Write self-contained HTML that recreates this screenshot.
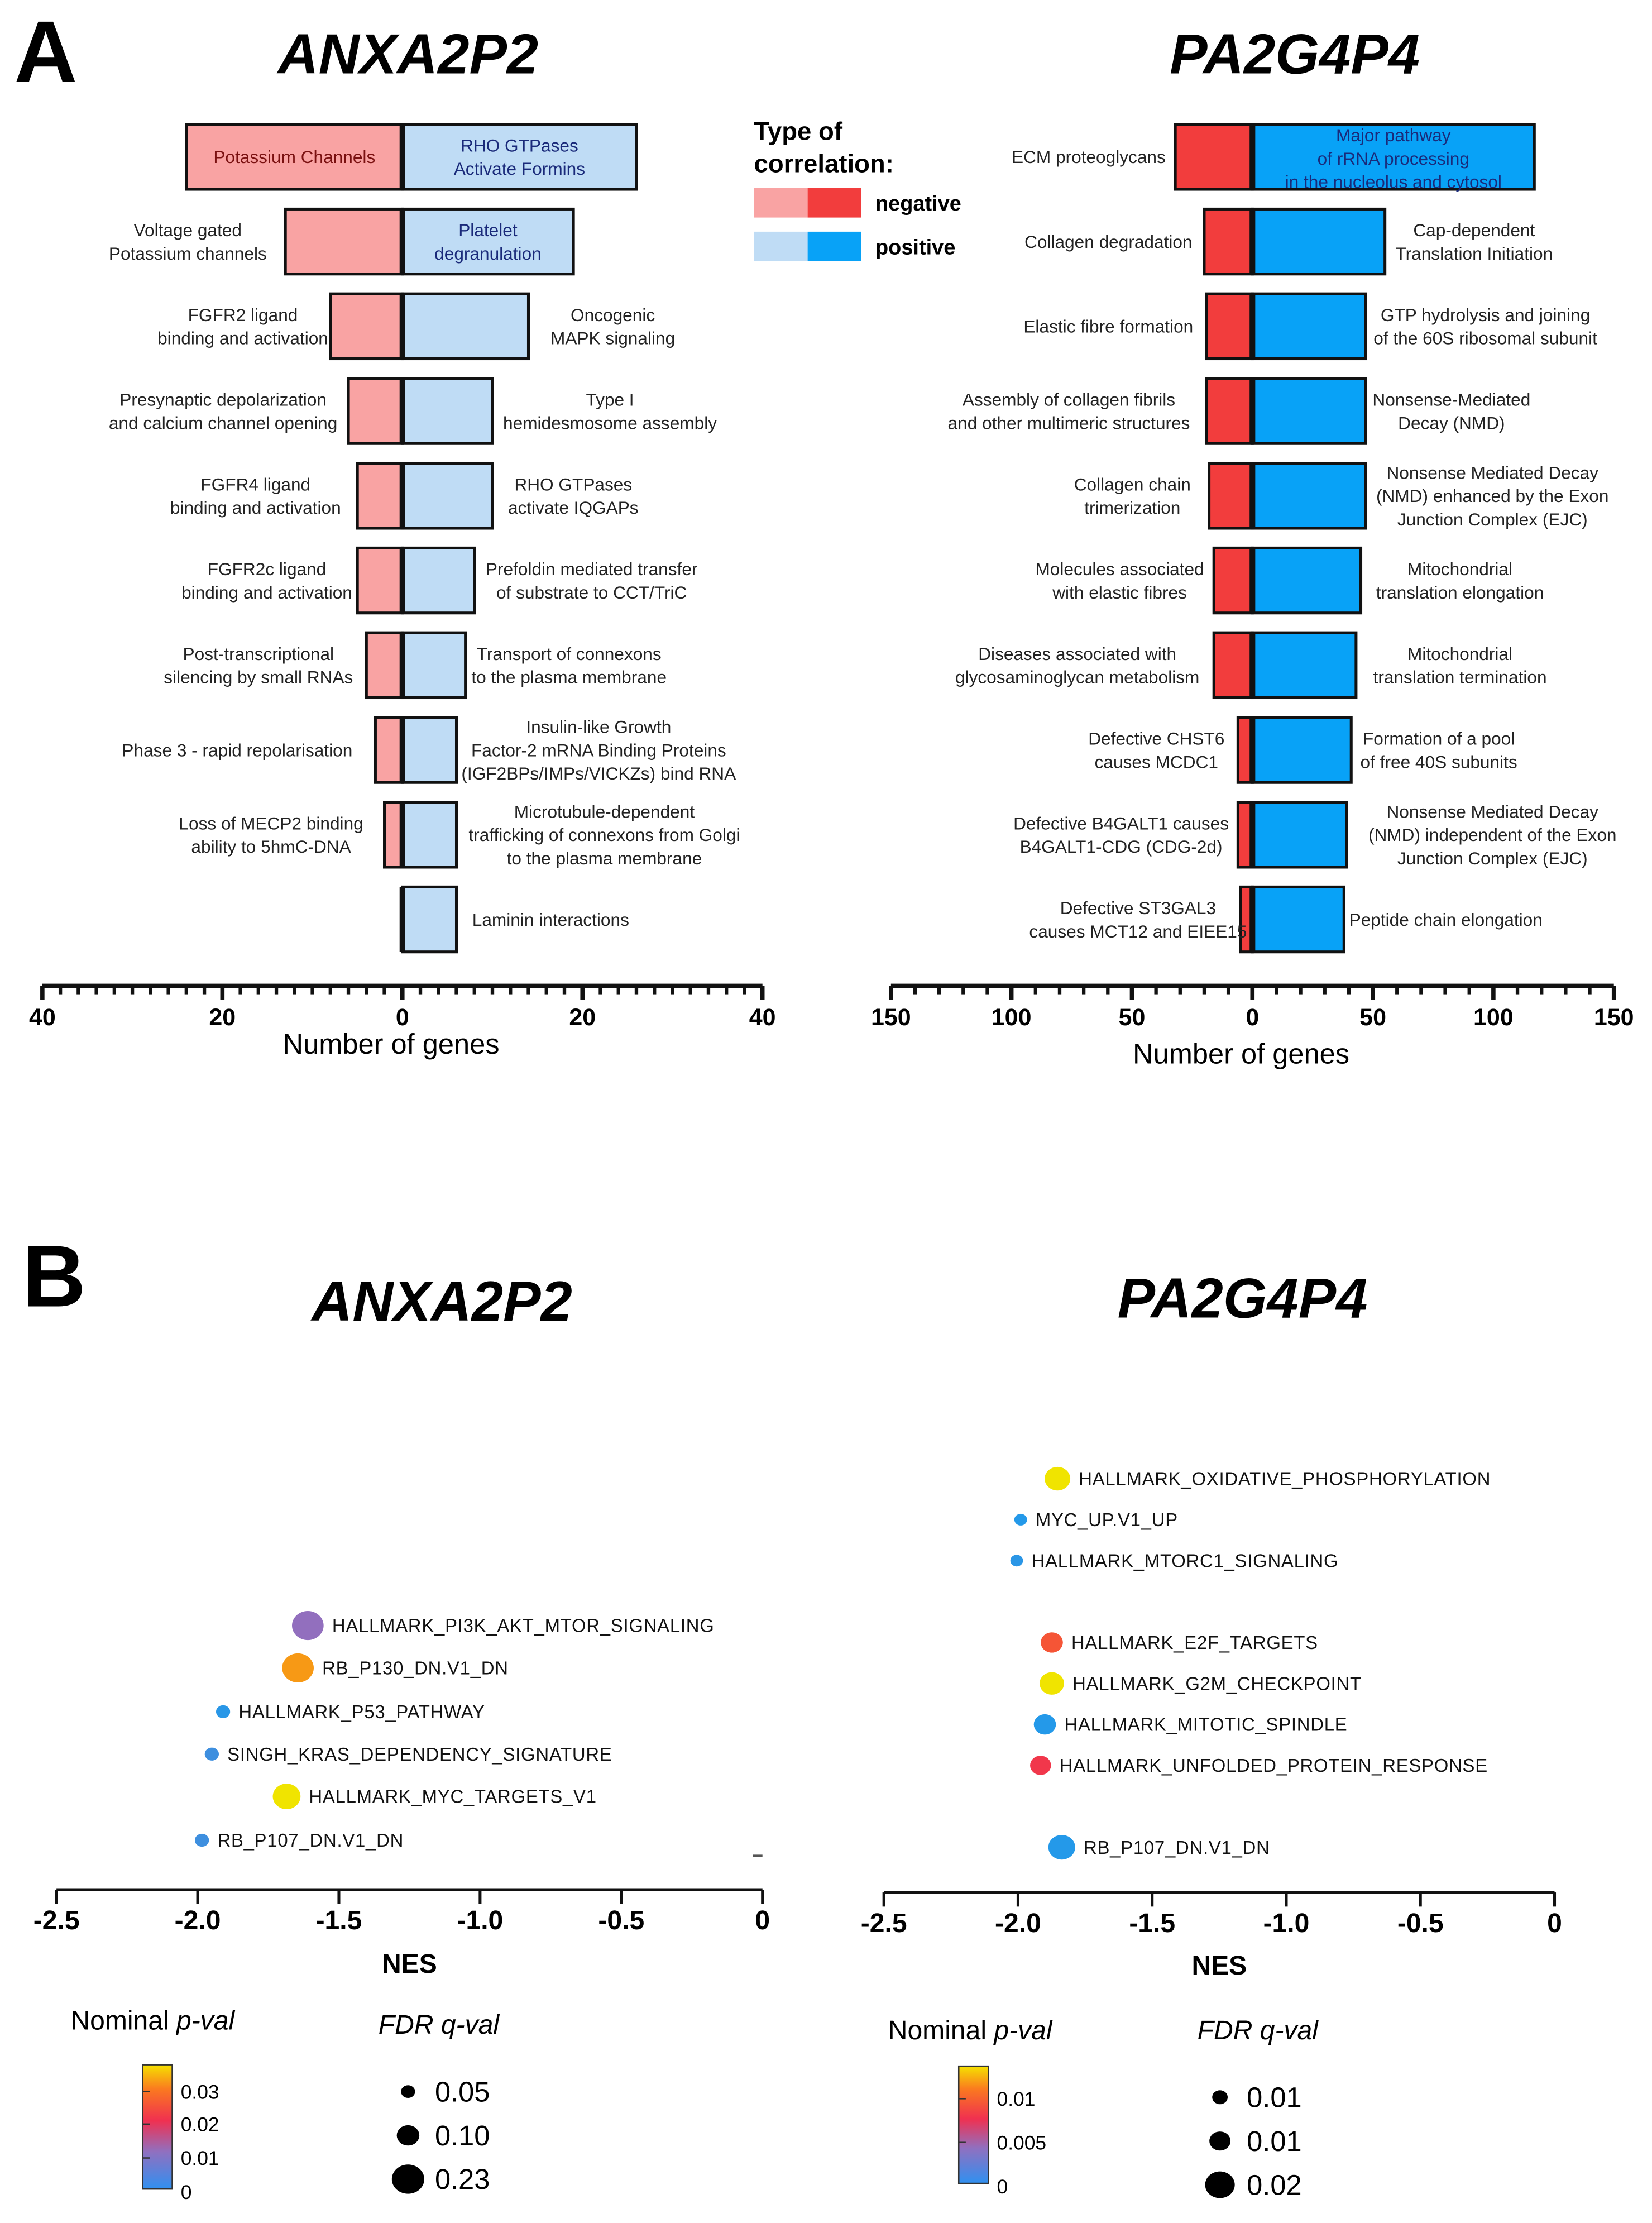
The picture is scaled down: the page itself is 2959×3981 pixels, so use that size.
<!DOCTYPE html>
<html><head><meta charset="utf-8"><style>
html,body{margin:0;padding:0;background:#fff}
svg{display:block;font-family:"Liberation Sans",Arial,sans-serif}
</style></head><body>
<svg id="fig" width="2959" height="3981" viewBox="0 0 1170 1574" xmlns="http://www.w3.org/2000/svg">
<rect width="1170" height="1574" fill="#fff"/>
<text x="10" y="58" font-size="62" font-weight="bold">A</text>
<text x="16" y="925" font-size="62" font-weight="bold">B</text>
<text x="289" y="52" font-size="40" font-weight="bold" font-style="italic" text-anchor="middle">ANXA2P2</text>
<text x="917" y="52" font-size="40" font-weight="bold" font-style="italic" text-anchor="middle">PA2G4P4</text>
<text x="313" y="935" font-size="40" font-weight="bold" font-style="italic" text-anchor="middle">ANXA2P2</text>
<text x="880" y="933" font-size="40" font-weight="bold" font-style="italic" text-anchor="middle">PA2G4P4</text>
<g>
<text x="534" y="99" font-size="18" font-weight="bold">Type of</text>
<text x="534" y="122" font-size="18" font-weight="bold">correlation:</text>
<rect x="534" y="133" width="38" height="21" fill="#f9a3a3"/><rect x="572" y="133" width="38" height="21" fill="#f23d3d"/>
<rect x="534" y="164" width="38" height="21" fill="#bfdcf5"/><rect x="572" y="164" width="38" height="21" fill="#08a2f7"/>
<text x="620" y="149" font-size="15" font-weight="bold">negative</text>
<text x="620" y="180" font-size="15" font-weight="bold">positive</text>
</g>
<g id="chartA1"></g>
<g id="chartA2"></g>
<g id="chartB1"></g>
<g id="chartB2"></g>
<g id="legB"></g>
</svg>
<script>
const NS="http://www.w3.org/2000/svg";
// ---- Panel A data ----
const a1Neg=[24,13,8,6,5,5,4,3,2,0];
const a1Pos=[26,19,14,10,10,8,7,6,6,6];
const a1NegLabels=[["Potassium Channels"],["Voltage gated","Potassium channels"],["FGFR2 ligand","binding and activation"],["Presynaptic depolarization","and calcium channel opening"],["FGFR4 ligand","binding and activation"],["FGFR2c ligand","binding and activation"],["Post-transcriptional","silencing by small RNAs"],["Phase 3 - rapid repolarisation"],["Loss of MECP2 binding","ability to 5hmC-DNA"],[]];
const a1PosLabels=[["RHO GTPases","Activate Formins"],["Platelet","degranulation"],["Oncogenic","MAPK signaling"],["Type I","hemidesmosome assembly"],["RHO GTPases","activate IQGAPs"],["Prefoldin mediated transfer","of substrate to CCT/TriC"],["Transport of connexons","to the plasma membrane"],["Insulin-like Growth","Factor-2 mRNA Binding Proteins","(IGF2BPs/IMPs/VICKZs) bind RNA"],["Microtubule-dependent","trafficking of connexons from Golgi","to the plasma membrane"],["Laminin interactions"]];
const a1Ticks=[40,20,0,20,40];
const a2Neg=[32,20,19,19,18,16,16,6,6,5];
const a2Pos=[117,55,47,47,47,45,43,41,39,38];
const a2NegLabels=[["ECM proteoglycans"],["Collagen degradation"],["Elastic fibre formation"],["Assembly of collagen fibrils","and other multimeric structures"],["Collagen chain","trimerization"],["Molecules associated","with elastic fibres"],["Diseases associated with","glycosaminoglycan metabolism"],["Defective CHST6","causes MCDC1"],["Defective B4GALT1 causes","B4GALT1-CDG (CDG-2d)"],["Defective ST3GAL3","causes MCT12 and EIEE15"]];
const a2PosLabels=[["Major pathway","of rRNA processing","in the nucleolus and cytosol"],["Cap-dependent","Translation Initiation"],["GTP hydrolysis and joining","of the 60S ribosomal subunit"],["Nonsense-Mediated","Decay (NMD)"],["Nonsense Mediated Decay","(NMD) enhanced by the Exon","Junction Complex (EJC)"],["Mitochondrial","translation elongation"],["Mitochondrial","translation termination"],["Formation of a pool","of free 40S subunits"],["Nonsense Mediated Decay","(NMD) independent of the Exon","Junction Complex (EJC)"],["Peptide chain elongation"]];
const a2Ticks=[150,100,50,0,50,100,150];
// ---- Panel B data ----
const b1Names=["HALLMARK_PI3K_AKT_MTOR_SIGNALING","RB_P130_DN.V1_DN","HALLMARK_P53_PATHWAY","SINGH_KRAS_DEPENDENCY_SIGNATURE","HALLMARK_MYC_TARGETS_V1","RB_P107_DN.V1_DN"];
const b1NES=[-1.61,-1.645,-1.91,-1.95,-1.685,-1.985];
const b1Pval=[0.011,0.031,0.001,0.003,0.036,0.003];
const b1Fdr=[0.22,0.22,0.04,0.04,0.18,0.04];
const b2Names=["HALLMARK_OXIDATIVE_PHOSPHORYLATION","MYC_UP.V1_UP","HALLMARK_MTORC1_SIGNALING","HALLMARK_E2F_TARGETS","HALLMARK_G2M_CHECKPOINT","HALLMARK_MITOTIC_SPINDLE","HALLMARK_UNFOLDED_PROTEIN_RESPONSE","RB_P107_DN.V1_DN"];
const b2NES=[-1.853,-1.99,-2.005,-1.874,-1.874,-1.9,-1.916,-1.837];
const b2Pval=[0.0125,0.0002,0.0004,0.0085,0.0125,0.0002,0.0072,0.0002];
const b2Fdr=[0.017,0.006,0.006,0.014,0.016,0.014,0.013,0.018];
const nesTicks=[-2.5,-2.0,-1.5,-1.0,-0.5,0];
const nesTickLabels=["-2.5","-2.0","-1.5","-1.0","-0.5","0"];

function el(tag,attrs,parent){const e=document.createElementNS(NS,tag);for(const k in attrs)e.setAttribute(k,attrs[k]);parent.appendChild(e);return e;}
function txt(lines,x,yc,size,anchor,parent,fill){
  const lh=size*1.32;const y0=yc-(lines.length-1)*lh/2+size*0.36;
  lines.forEach((l,i)=>{const t=el("text",{x:x,y:y0+i*lh,"font-size":size,"text-anchor":anchor,fill:fill||"#222"},parent);t.textContent=l;
  
  });
}
const rowY=[111,171,231,291,351,411,471,531,591,651];

function barChart(g,neg,pos,negL,posL,x0,ppu,ticks,minorStep,maxV,negCx,posCx,darkNeg,darkPos,inside,axisY,xlab,xlabY){
  const xs=v=>x0+v*ppu;
  neg.forEach((v,i)=>{
    const y=rowY[i]-23;
    if(v>0){const r=el("rect",{x:xs(-v),y:y,width:v*ppu,height:46,fill:darkNeg,stroke:"#111","stroke-width":2},g);
      
      }
    const r2=el("rect",{x:xs(0),y:y,width:pos[i]*ppu,height:46,fill:darkPos,stroke:"#111","stroke-width":2},g);
    
    
    el("rect",{x:x0-2,y:y,width:4,height:46,fill:"#111"},g);
    if(inside[i]===1){txt(negL[i],(xs(-v)+x0)/2,rowY[i],12.5,"middle",g,"#7a1010");}
    else if(negL[i].length) txt(negL[i],negCx[i],rowY[i],12.5,"middle",g);
    if(inside[i]===1||inside[i]===2||inside[i]===3){txt(posL[i],(xs(pos[i])+x0)/2,rowY[i]+(posL[i].length>2?1:0),12.5,"middle",g,"#1a2a7a");}
    else txt(posL[i],posCx[i],rowY[i],12.5,"middle",g);
  });
  el("line",{x1:xs(-maxV),x2:xs(maxV),y1:axisY,y2:axisY,stroke:"#111","stroke-width":3},g);
  for(let v=-maxV;v<=maxV+1e-9;v+=minorStep){
    const major=ticks.some((t,i)=>Math.abs(v-(i<(ticks.length-1)/2?-t:t))<1e-9);
    el("line",{x1:xs(v),x2:xs(v),y1:axisY,y2:axisY+(major?10:6),stroke:"#111","stroke-width":major?3:2.5},g);
  }
  const n=ticks.length,mid=(n-1)/2;
  ticks.forEach((t,i)=>{const v=i<mid?-t:t;const tt=el("text",{x:xs(v),y:axisY+28,"font-size":17,"font-weight":"bold","text-anchor":"middle"},g);tt.textContent=t;
    
    });
  const xl=el("text",{x:x0-8,y:xlabY,"font-size":20,"text-anchor":"middle"},g);xl.textContent=xlab;
  
  
}
barChart(document.getElementById("chartA1"),a1Neg,a1Pos,a1NegLabels,a1PosLabels,285,127.5/20,a1Ticks,2,40,
  [0,133,172,158,181,189,183,168,192,0],[0,0,434,432,406,419,403,424,428,390],"#f9a3a3","#bfdcf5",[1,2,0,0,0,0,0,0,0,0],698,"Number of genes",746);
barChart(document.getElementById("chartA2"),a2Neg,a2Pos,a2NegLabels,a2PosLabels,887,256/150,a2Ticks,10,150,
  [771,785,785,757,802,793,763,819,794,806],[0,1044,1052,1028,1057,1034,1034,1019,1057,1024],"#f23d3d","#08a2f7",[3,0,0,0,0,0,0,0,0,0],698,"Number of genes",753);

// ---- Panel B ----
function pcol(p,max){
  const stops=[[0,[30,155,235]],[0.3,[144,112,192]],[0.55,[240,48,80]],[0.8,[250,120,30]],[1,[240,228,0]]];
  const f=Math.max(0,Math.min(1,p/max));
  for(let i=1;i<stops.length;i++){if(f<=stops[i][0]){const a=stops[i-1],b=stops[i];const u=(f-a[0])/(b[0]-a[0]);
    const c=a[1].map((v,k)=>Math.round(v+(b[1][k]-v)*u));return "rgb("+c.join(",")+")";}}
  return "rgb(240,228,0)";
}
function nesChart(g,names,nes,pv,fdr,xLeft,xRight,axisY,rows,pmax,rmin,rmax,fmin,fmax,xlabY){
  const xs=v=>xLeft+(v+2.5)/2.5*(xRight-xLeft);
  names.forEach((n,i)=>{
    const r=rmin+(rmax-rmin)*Math.max(0,(fdr[i]-fmin)/(fmax-fmin));
    const c=el("ellipse",{cx:xs(nes[i]),cy:rows[i],rx:r,ry:r*0.92,fill:pcol(pv[i],pmax)},g);
    
    
    const t=el("text",{x:xs(nes[i])+r+6,y:rows[i]+4.6,"font-size":13,fill:"#111","letter-spacing":"0.3"},g);t.textContent=n;
    
    
  });
  el("line",{x1:xLeft,x2:xRight,y1:axisY,y2:axisY,stroke:"#111","stroke-width":2},g);
  nesTicks.forEach((v,i)=>{el("line",{x1:xs(v),x2:xs(v),y1:axisY,y2:axisY+10,stroke:"#111","stroke-width":2},g);
    const t=el("text",{x:xs(v),y:axisY+28,"font-size":19,"font-weight":"bold","text-anchor":"middle"},g);t.textContent=nesTickLabels[i];
    
    });
  const xl=el("text",{x:(xLeft+xRight)/2,y:xlabY,"font-size":19,"font-weight":"bold","text-anchor":"middle"},g);xl.textContent="NES";
  
  
}
nesChart(document.getElementById("chartB1"),b1Names,b1NES,b1Pval,b1Fdr,40,540,1338,[1151,1181,1212,1242,1272,1303],0.036,5,11.2,0.04,0.22,1397);
nesChart(document.getElementById("chartB2"),b2Names,b2NES,b2Pval,b2Fdr,626,1101,1340,[1047,1076,1105,1163,1192,1221,1250,1308],0.0125,4.5,9.5,0.006,0.018,1398);
el("line",{x1:533,x2:540,y1:1314,y2:1314,stroke:"#555","stroke-width":1.5},document.getElementById("chartB1"));

function legends(g,x,y,bx,by,bh,ticks,tickY,fx,fy,cx,cys,rs,flabels){
  const def=el("defs",{},g);const lg=el("linearGradient",{id:"grad"+x,x1:0,y1:1,x2:0,y2:0},def);
  [["0","#3090f0"],["0.3","#9070c0"],["0.55","#f03050"],["0.8","#fa7820"],["1","#f5e100"]].forEach(s=>el("stop",{offset:s[0],"stop-color":s[1]},lg));
  const t=el("text",{x:x,y:y,"font-size":19},g);t.innerHTML='Nominal <tspan font-style="italic">p-val</tspan>';
  
  
  const r=el("rect",{x:bx,y:by,width:21,height:bh,fill:"url(#grad"+x+")",stroke:"#333","stroke-width":1},g);
  
  
  ticks.forEach((tk,i)=>{if(i>0)el("line",{x1:bx,x2:bx+5,y1:tickY[i]-5,y2:tickY[i]-5,stroke:"#333"},g);
    const tt=el("text",{x:bx+27,y:tickY[i],"font-size":14},g);tt.textContent=tk;});
  const f=el("text",{x:fx,y:fy,"font-size":19,"font-style":"italic"},g);f.textContent="FDR q-val";
  
  
  cys.forEach((cy,i)=>{el("ellipse",{cx:cx,cy:cy,rx:rs[i],ry:rs[i]*0.9,fill:"#000"},g);
    const tt=el("text",{x:cx+19,y:cy+7,"font-size":20},g);tt.textContent=flabels[i];});
}
const lb=document.getElementById("legB");
legends(lb,50,1437,101,1462,88,["0","0.01","0.02","0.03"],[1557,1533,1509,1486],268,1440,289,[1481,1512,1543],[5,8,11.5],["0.05","0.10","0.23"]);
legends(lb,629,1444,679,1463,83,["0","0.005","0.01"],[1553,1522,1491],848,1444,864,[1485,1516,1547],[5.5,7.5,10.5],["0.01","0.01","0.02"]);
</script>
</body></html>
